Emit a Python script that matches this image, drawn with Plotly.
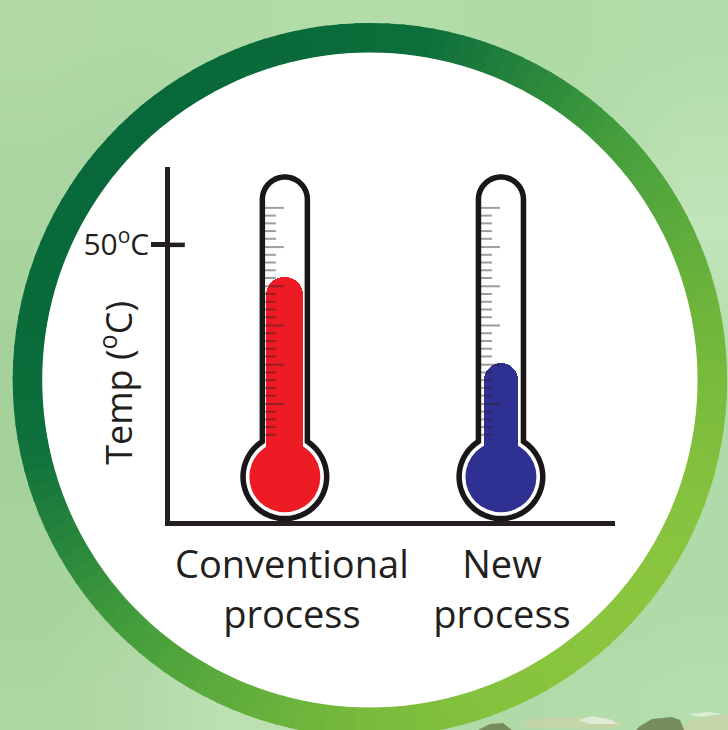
import base64, math, struct, zlib
import plotly.graph_objects as go

# ---------- data ----------
categories = ["Conventional<br>process", "New<br>process"]
temps = [44.2, 28.6]
fill_colors = ["#ed1c24", "#2e3192"]
fill_widths = [37, 34]
y_tick_vals = [50]
y_tick_text = ["50<sup>o</sup>C"]
y_title = "Temp (<sup>o</sup>C)"
gauge_marks = [56.7, 55.3, 53.9, 52.5, 51.1, 49.6, 48.2, 46.8, 45.4, 44.0, 42.5, 41.1, 39.7, 38.3, 36.9, 35.4,
               34.0, 32.6, 31.2, 29.8, 28.3, 26.9, 25.5, 24.1, 22.7, 21.2, 19.8, 18.4, 17.0, 15.6]
bulb_temp = 8.0
# background colour grid (rows top to bottom)
bg_grid = [
    [(176,217,166),(174,216,164),(176,218,166),(178,220,168),(178,220,168),(176,219,166),(176,220,168),(178,221,170)],
    [(172,214,162),(170,213,160),(172,215,162),(176,218,166),(176,218,166),(174,217,164),(178,221,170),(186,225,178)],
    [(170,213,160),(170,213,160),(174,216,164),(176,218,166),(176,218,166),(174,217,164),(182,223,174),(194,229,186)],
    [(166,211,156),(168,212,158),(174,216,164),(174,216,164),(174,216,164),(174,216,164),(178,221,170),(184,224,176)],
    [(164,210,154),(168,212,158),(174,216,164),(174,216,164),(174,216,164),(174,216,164),(176,220,168),(176,220,168)],
    [(166,211,156),(168,212,158),(172,215,162),(174,216,164),(174,216,164),(174,216,164),(174,218,166),(174,219,168)],
    [(168,212,158),(172,214,162),(176,217,166),(176,218,166),(174,216,164),(174,217,166),(174,218,166),(176,219,168)],
    [(172,214,162),(178,218,168),(190,225,180),(186,224,176),(178,220,170),(176,219,168),(178,221,170),(180,222,172)],
]
land_tan = [[(520,722),(545,718),(600,716),(625,724),(610,729),(530,728)], [(690,720),(728,714),(728,730),(680,730)]]
land_white = [[(578,720),(592,716),(612,720),(618,724),(590,724)], [(688,714),(708,712),(722,714),(700,717)]]
land_dark = [[(640,726),(652,719),(672,717),(680,720),(684,730),(636,730)], [(478,730),(490,724),(503,723),(512,730)]]

# ---------- layout constants (reference pixels) ----------
W, H = 728, 730
L, R, T, B = 170.2, 615, 167, 521
CX, CY, RO, RI = 370, 380, 357, 327
TUBES = [285, 501]
PX_PER_CAT = TUBES[1] - TUBES[0]
X = lambda p: (p - L) / (R - L)
Y = lambda p: (B - p) / (B - T)
xval = lambda p: (p - TUBES[0]) / PX_PER_CAT
ymax = 64.1
PY = lambda t: B - t * (B - T) / ymax


def path(points, close=True):
    s = "M" + " L".join(f"{X(a):.5f},{Y(b):.5f}" for a, b in points)
    return s + (" Z" if close else "")


def lerp(c1, c2, t):
    return tuple(c1[i] + (c2[i] - c1[i]) * t for i in range(3))


def ring_color(a, b):
    t = ((a - CX) + (b - CY)) / (math.sqrt(2) * RO)
    stops = [(-1.0, (8, 104, 58)), (-0.55, (14, 112, 60)), (0.0, (68, 158, 60)),
             (0.55, (112, 182, 60)), (1.0, (142, 199, 63))]
    for (t0, c0), (t1, c1) in zip(stops, stops[1:]):
        if t <= t1:
            r = lerp(c0, c1, max(0, (t - t0) / (t1 - t0)))
            return "rgb(%d,%d,%d)" % r
    return "rgb(142,199,63)"


def png_uri(grid):
    h, w = len(grid), len(grid[0])
    raw = b"".join(b"\0" + bytes(v for px in row for v in px) for row in grid)
    def chunk(t, d):
        return struct.pack(">I", len(d)) + t + d + struct.pack(">I", zlib.crc32(t + d))
    png = b"\x89PNG\r\n\x1a\n" + chunk(b"IHDR", struct.pack(">IIBBBBB", w, h, 8, 2, 0, 0, 0)) + \
        chunk(b"IDAT", zlib.compress(raw)) + chunk(b"IEND", b"")
    return "data:image/png;base64," + base64.b64encode(png).decode()


def poly_shape(poly, color, opacity=1.0):
    return dict(type="path", xref="paper", yref="paper", path=path(poly), fillcolor=color,
                line_width=0, opacity=opacity, layer="below")


shapes = []
# gradient ring
N = 144
for i in range(N):
    a0 = 2 * math.pi * i / N
    a1 = 2 * math.pi * (i + 1.25) / N
    am = (a0 + a1) / 2
    pts = []
    for a in (a0, am, a1):
        pts.append((CX + RO * math.cos(a), CY + RO * math.sin(a)))
    for a in (a1, am, a0):
        pts.append((CX + RI * math.cos(a), CY + RI * math.sin(a)))
    col = ring_color(CX + (RO + RI) / 2 * math.cos(am), CY + (RO + RI) / 2 * math.sin(am))
    shapes.append(poly_shape(pts, col))
# land strip on top of the ring
for poly in land_tan:
    shapes.append(poly_shape(poly, "#ccd2a8", .7))
for poly in land_white:
    shapes.append(poly_shape(poly, "#eef3e6", .7))
for poly in land_dark:
    shapes.append(poly_shape(poly, "#5f6b3c", .7))
# white disc
disc = [(CX + (RI + .5) * math.cos(2 * math.pi * i / 180), CY + (RI + .5) * math.sin(2 * math.pi * i / 180)) for i in range(180)]
shapes.append(poly_shape(disc, "white"))

# thermometer outlines
HW, BR, TOP = 22.5, 41.8, 177
BY = PY(bulb_temp)
for cx in TUBES:
    pts = []
    cap_y = TOP + HW
    for k in range(0, 37):
        a = math.pi + math.pi * k / 36
        pts.append((cx + HW * math.cos(a), cap_y + HW * math.sin(a)))
    start = math.asin(HW / BR)
    for k in range(0, 73):
        a = start + (2 * math.pi - 2 * start) * k / 72
        pts.append((cx + BR * math.sin(a), BY - BR * math.cos(a)))
    shapes.append(dict(type="path", xref="paper", yref="paper", path=path(pts), fillcolor="white",
                       line=dict(color="#1a1718", width=5.5), layer="below"))

# 50C tick crossing into the plot
shapes.append(dict(type="line", xref="paper", yref="y", x0=X(L), x1=X(185), y0=y_tick_vals[0], y1=y_tick_vals[0],
                   line=dict(color="#231f20", width=4.5), layer="above"))

fig = go.Figure()
fig.add_trace(go.Bar(x=[0, 1], y=[t - bulb_temp for t in temps], base=[bulb_temp, bulb_temp],
                     width=[w / PX_PER_CAT for w in fill_widths],
                     marker=dict(color=fill_colors, cornerradius="50%", line_width=0), showlegend=False, hoverinfo="skip"))

for cx in TUBES:
    xs, ys = [], []
    for i, m in enumerate(gauge_marks):
        length = 19 if i % 5 == 0 else 11
        xs += [xval(cx - 20), xval(cx - 20 + length), None]
        ys += [m, m, None]
    fig.add_trace(go.Scatter(x=xs, y=ys, mode="lines", line=dict(color="rgba(40,36,37,.45)", width=2),
                             showlegend=False, hoverinfo="skip"))

fig.add_trace(go.Scatter(x=[0, 1], y=[bulb_temp, bulb_temp], mode="markers", cliponaxis=False,
                         marker=dict(size=71, color=fill_colors, line_width=0), showlegend=False, hoverinfo="skip"))

FONT = "Open Sans"
fig.update_layout(
    width=W, height=H, autosize=False, margin=dict(l=L, r=W - R, t=T, b=H - B, pad=0),
    paper_bgcolor="#b0dbaa", plot_bgcolor="rgba(0,0,0,0)", showlegend=False, bargap=0,
    font=dict(family=FONT, color="#231f20"),
    shapes=shapes,
    images=[dict(source=png_uri(bg_grid), xref="paper", yref="paper", x=X(0), y=Y(0), sizex=W / (R - L), sizey=H / (B - T),
                 xanchor="left", yanchor="top", sizing="stretch", layer="below")],
    annotations=[dict(text=y_title, xref="paper", yref="paper", x=X(116), y=Y(383), textangle=-90, showarrow=False,
                      xanchor="center", yanchor="middle", font=dict(size=36, family=FONT, color="#231f20"))],
    xaxis=dict(range=[xval(L), xval(R)], tickvals=[xval(292), xval(502)], ticktext=categories, ticks="", showgrid=False,
               zeroline=False, showline=True, linecolor="#231f20", linewidth=4.5, automargin=False, ticklabelstandoff=7,
               tickfont=dict(size=38, family=FONT, color="#231f20")),
    yaxis=dict(range=[0, ymax], tickvals=y_tick_vals, ticktext=y_tick_text, ticks="outside", ticklen=14, tickwidth=4.5,
               tickcolor="#231f20", showgrid=False, zeroline=False, showline=True, linecolor="#231f20", linewidth=4.5,
               automargin=False, ticklabelstandoff=-4, tickfont=dict(size=30, family=FONT, color="#231f20")),
)
fig.write_html("out.html", config=dict(displayModeBar=False),
               post_script="document.documentElement.style.overflow='hidden';document.body.style.margin='0';document.body.style.overflow='hidden';")
